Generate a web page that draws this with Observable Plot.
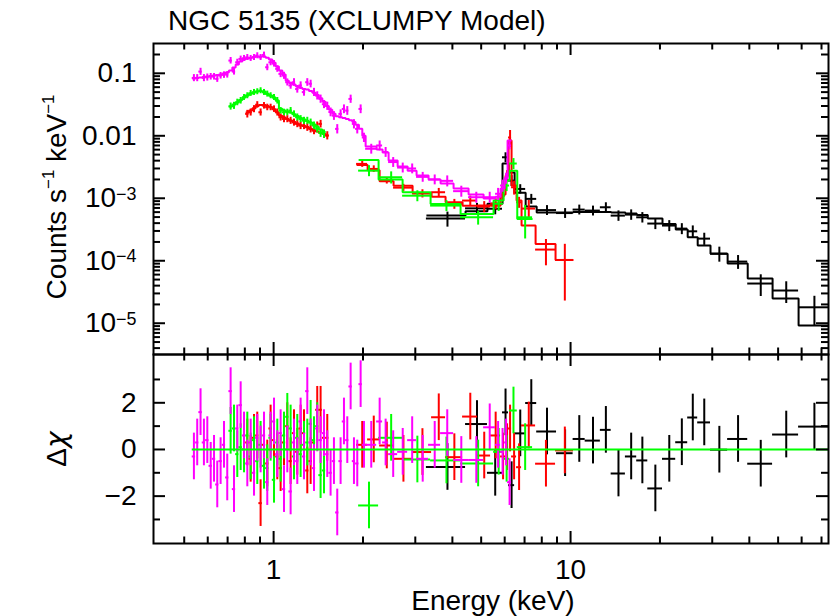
<!DOCTYPE html>
<html><head><meta charset="utf-8">
<script src="https://cdn.jsdelivr.net/npm/d3@7"></script>
<script src="https://cdn.jsdelivr.net/npm/@observablehq/plot@0.6"></script>
<style>
body{margin:0;background:#fff;}
#wrap{position:relative;width:830px;height:616px;overflow:hidden;font-family:"Liberation Sans",Arial,sans-serif;color:#000;background:#fff;}
.lbl{position:absolute;white-space:nowrap;font-size:28px;line-height:1;}
.rot{transform:translate(-50%,-50%) rotate(-90deg);}
.lbl .sp{font-size:0.6em;position:relative;top:-0.72em;}
.chi{font-family:"DejaVu Sans",sans-serif;font-style:oblique;}
</style></head><body>
<div id="wrap">
  <div class="lbl" style="left:168px;top:7px">NGC 5135 (XCLUMPY Model)</div>
  <div class="lbl rot" style="left:57px;top:197px">Counts s<span class="sp">−1</span> keV<span class="sp">−1</span></div>
  <div class="lbl rot" style="left:57px;top:449px">Δ<span class="chi">χ</span></div>
  <div class="lbl" style="left:493px;top:587px;transform:translateX(-50%)">Energy (keV)</div>
</div>
<script>
// ---------------- data (energies in keV, counts s^-1 keV^-1) ----------------
// black
const blackEdges = [3.27, 4.43, 5.25, 5.90, 6.18, 6.48, 7.06, 7.69, 8.97, 10.2, 11.2, 12.6, 13.7, 15.3, 16.7, 18.2, 20.4, 22.6, 24.8, 26.8, 29.6, 33.8, 39.5, 47.9, 58.6, 73.9];
const blackFlux = [4.73e-4, 6.9e-4, 6.8e-4, 4.53e-3, 1.92e-3, 1.41e-3, 9.78e-4, 6.47e-4, 5.80e-4, 6.59e-4, 6.35e-4, 7.18e-4, 5.28e-4, 5.48e-4, 4.96e-4, 3.94e-4, 3.66e-4, 3.27e-4, 2.96e-4, 2.26e-4, 1.30e-4, 9.7e-5, 4.32e-5, 3.34e-5, 1.80e-5];
const blackRelErr = [0.27, 0.2, 0.2, 0.18, 0.2, 0.17, 0.18, 0.18, 0.18, 0.18, 0.18, 0.18, 0.19, 0.19, 0.19, 0.2, 0.2, 0.2, 0.22, 0.22, 0.27, 0.25, 0.38, 0.38, 0.5];
const blackModel = [5.28e-4, 6.2e-4, 8.2e-4, 3.59e-3, 2.58e-3, 1.23e-3, 7.37e-4, 5.90e-4, 5.90e-4, 6.01e-4, 6.01e-4, 6.01e-4, 5.90e-4, 5.69e-4, 5.38e-4, 4.73e-4, 3.87e-4, 3.16e-4, 2.38e-4, 1.75e-4, 1.30e-4, 9.02e-5, 5.19e-5, 2.48e-5, 9.19e-6];
const blackResid = [-0.75, 1.09, -1.0, 1.59, -1.53, 0.69, 1.99, 0.77, -0.16, 0.45, 0.38, 0.84, -1.03, -0.30, -0.47, -1.67, -0.40, 0.31, 1.37, 1.16, -0.01, 0.45, -0.61, 0.64, 0.98];

// red (two energy ranges)
const redLoEdges = [0.805, 0.826, 0.848, 0.870, 0.892, 0.916, 0.940, 0.964, 0.990, 1.016, 1.042, 1.070, 1.098, 1.126, 1.156, 1.186, 1.217, 1.249, 1.282, 1.315, 1.350, 1.385, 1.420, 1.459, 1.497, 1.535];
const redLoFlux = [0.0224, 0.0238, 0.0269, 0.0314, 0.0238, 0.0304, 0.0286, 0.0286, 0.0269, 0.0238, 0.0198, 0.0186, 0.0186, 0.0175, 0.0164, 0.0155, 0.0146, 0.0146, 0.0137, 0.0129, 0.0121, 0.0146, 0.0155, 0.0107, 0.0101];
const redLoRelErr = [0.14, 0.13, 0.13, 0.12, 0.13, 0.12, 0.12, 0.12, 0.12, 0.13, 0.13, 0.13, 0.13, 0.13, 0.13, 0.13, 0.14, 0.14, 0.14, 0.14, 0.14, 0.14, 0.14, 0.15, 0.15];
const redLoModel = [0.0235, 0.0253, 0.0277, 0.0299, 0.0310, 0.0310, 0.0299, 0.0288, 0.0267, 0.0239, 0.0210, 0.0196, 0.0185, 0.0175, 0.0166, 0.0157, 0.0148, 0.0143, 0.0138, 0.0130, 0.0123, 0.0117, 0.0112, 0.0107, 0.0101];
const redLoResid = [0.3, -0.4, 0.5, 0.6, -2.3, 0.2, -0.6, 0.9, 0.4, -0.3, -0.8, 0.3, 1.0, -0.5, 0.7, -0.1, 0.9, 0.7, -0.9, -0.5, 0.3, 1.7, 1.7, 0.5, 0.5];
const redHiEdges = [1.903, 2.073, 2.275, 2.535, 2.938, 3.404, 3.794, 4.329, 4.862, 5.378, 5.811, 6.041, 6.183, 6.329, 6.579, 6.839, 7.625, 8.901, 10.23];
const redHiFlux = [3.55e-3, 2.95e-3, 1.92e-3, 1.48e-3, 1.19e-3, 1.25e-3, 8.13e-4, 9.19e-4, 7.37e-4, 8.22e-4, 1.10e-3, 2.31e-3, 9.36e-3, 1.5e-3, 8.63e-4, 6.84e-4, 1.51e-4, 1.03e-4];
const redHiRelErr = [0.12, 0.12, 0.12, 0.13, 0.15, 0.15, 0.18, 0.18, 0.2, 0.2, 0.2, 0.2, 0.3, 0.25, 0.2, 0.35, 0.45, 0.78];
const redHiModel = [3.4e-3, 2.8e-3, 1.88e-3, 1.58e-3, 1.21e-3, 1.06e-3, 8.6e-4, 7.6e-4, 7.64e-4, 7.6e-4, 1.15e-3, 2.3e-3, 8.4e-3, 1.6e-3, 9.2e-4, 3.66e-4, 1.86e-4, 1.03e-4];
const redHiResid = [0.2, 0.43, 0.17, -0.4, -0.11, 1.38, -0.33, 1.41, -0.26, 0.6, -0.3, 0.1, 0.9, -0.3, -0.76, 1.03, -0.61, -0.04];

// green (two energy ranges)
const greenLoEdges = [0.707, 0.726, 0.745, 0.764, 0.785, 0.805, 0.826, 0.848, 0.870, 0.892, 0.916, 0.940, 0.964, 0.990, 1.016, 1.042, 1.070, 1.098, 1.126, 1.156, 1.186, 1.217, 1.249, 1.282, 1.315, 1.350, 1.385, 1.420, 1.459, 1.497];
const greenLoFlux = [0.0296, 0.0304, 0.0344, 0.0366, 0.0413, 0.0440, 0.0479, 0.0497, 0.0510, 0.0529, 0.0497, 0.0468, 0.0440, 0.0413, 0.0366, 0.0253, 0.0238, 0.0238, 0.0253, 0.0224, 0.0198, 0.0186, 0.0175, 0.0175, 0.0164, 0.0146, 0.0129, 0.0111, 0.0107];
const greenLoRelErr = [0.13, 0.13, 0.12, 0.12, 0.11, 0.11, 0.11, 0.11, 0.11, 0.11, 0.11, 0.11, 0.11, 0.11, 0.12, 0.12, 0.12, 0.12, 0.12, 0.12, 0.13, 0.13, 0.13, 0.13, 0.13, 0.14, 0.14, 0.15, 0.15];
const greenLoModel = [0.0293, 0.0316, 0.0340, 0.0373, 0.0409, 0.0440, 0.0473, 0.0491, 0.0510, 0.0519, 0.0510, 0.0473, 0.0440, 0.0409, 0.0366, 0.0272, 0.0253, 0.0244, 0.0235, 0.0222, 0.0207, 0.0192, 0.0182, 0.0172, 0.0163, 0.0151, 0.0138, 0.0126, 0.0115];
const greenLoResid = [0.8, 0.9, -0.2, 0.1, 0.0, 0.6, -0.3, 0.4, -0.5, 0.2, -0.7, -0.8, 0.5, -1.3, 0.3, -0.4, 0.6, 1.4, 0.9, -0.3, 0.5, -0.2, 0.2, 0.3, 1.1, 0.4, 1.0, -1.1, -0.9];
const greenHiEdges = [1.933, 2.257, 2.719, 3.378, 4.262, 5.505, 5.950, 6.232, 6.615, 7.449];
const greenHiFlux = [2.77e-3, 2.17e-3, 1.10e-3, 7.64e-4, 4.96e-4, 8.2e-4, 1.6e-3, 3.6e-3, 4.96e-4];
const greenHiRelErr = [0.2, 0.22, 0.2, 0.2, 0.25, 0.25, 0.2, 0.2, 0.55];
const greenHiModel = [4.11e-3, 1.99e-3, 1.25e-3, 8.13e-4, 5.62e-4, 9.2e-4, 1.92e-3, 2.77e-3, 4.68e-4];
const greenHiResid = [-2.4, 0.5, -0.43, -0.47, -0.6, -0.1, -0.4, 1.67, 0.1];

// magenta
const magentaEdges = [0.532, 0.546, 0.560, 0.575, 0.590, 0.606, 0.622, 0.638, 0.654, 0.672, 0.689, 0.707, 0.726, 0.745, 0.764, 0.785, 0.805, 0.826, 0.848, 0.870, 0.892, 0.916, 0.940, 0.964, 0.990, 1.016, 1.042, 1.070, 1.098, 1.126, 1.156, 1.186, 1.217, 1.249, 1.282, 1.315, 1.350, 1.385, 1.420, 1.459, 1.497, 1.535, 1.576, 1.617, 1.659, 1.703, 1.748, 1.793, 1.841, 1.888, 1.938, 1.989, 2.041, 2.223, 2.328, 2.439, 2.616, 2.827, 3.030, 3.325, 3.650, 4.037, 4.535, 5.095, 5.591, 5.811, 5.995, 6.136, 6.329];
const magentaFlux = [0.0844, 0.0844, 0.1065, 0.0844, 0.0863, 0.0886, 0.0886, 0.0814, 0.0919, 0.0943, 0.0953, 0.160, 0.1065, 0.150, 0.170, 0.174, 0.180, 0.174, 0.180, 0.192, 0.180, 0.197, 0.125, 0.150, 0.143, 0.118, 0.098, 0.092, 0.072, 0.064, 0.072, 0.056, 0.064, 0.050, 0.072, 0.068, 0.050, 0.044, 0.039, 0.032, 0.030, 0.024, 0.021, 0.0129, 0.0224, 0.0269, 0.0253, 0.0389, 0.0155, 0.0129, 0.0269, 0.0094, 0.0062, 0.0070, 0.0055, 0.0038, 0.0031, 0.0030, 0.0022, 0.0020, 0.0019, 0.0013, 0.00104, 0.00104, 0.00118, 0.0016, 0.0021, 0.0070];
const magentaRelErr = [0.13, 0.13, 0.13, 0.13, 0.13, 0.12, 0.12, 0.12, 0.12, 0.12, 0.12, 0.12, 0.12, 0.12, 0.11, 0.11, 0.11, 0.11, 0.11, 0.11, 0.11, 0.11, 0.12, 0.12, 0.12, 0.12, 0.13, 0.13, 0.13, 0.13, 0.14, 0.14, 0.14, 0.14, 0.14, 0.14, 0.15, 0.15, 0.15, 0.15, 0.15, 0.16, 0.16, 0.17, 0.16, 0.16, 0.16, 0.15, 0.17, 0.17, 0.16, 0.17, 0.18, 0.18, 0.18, 0.18, 0.18, 0.18, 0.18, 0.18, 0.2, 0.2, 0.2, 0.2, 0.22, 0.22, 0.2, 0.15];
const magentaModel = [0.0823, 0.0838, 0.0854, 0.0870, 0.0886, 0.0902, 0.0919, 0.0936, 0.0953, 0.0989, 0.1026, 0.1105, 0.1234, 0.138, 0.154, 0.166, 0.172, 0.178, 0.182, 0.185, 0.185, 0.185, 0.178, 0.166, 0.148, 0.128, 0.1105, 0.0953, 0.076, 0.070, 0.066, 0.062, 0.059, 0.056, 0.055, 0.052, 0.049, 0.045, 0.040, 0.035, 0.030, 0.026, 0.0225, 0.0205, 0.0198, 0.0192, 0.0186, 0.0178, 0.0166, 0.0150, 0.0130, 0.0100, 0.00672, 0.00601, 0.00538, 0.00401, 0.00322, 0.00277, 0.00231, 0.00199, 0.00172, 0.00143, 0.00115, 0.00099, 0.00106, 0.00143, 0.00207, 0.00838];
const magentaResid = [-0.3, 0.3, 1.6, 0.3, 0.4, -0.7, -0.4, -1.5, -0.5, 0.2, -1.2, 2.5, -1.7, 0.9, 1.9, 0.6, -0.6, 0.3, -1.0, 0.5, 0.0, 0.6, -1.4, 0.6, 1.2, -0.2, 0.7, -1.7, 0.0, -1.8, 0.3, -0.5, 1.2, -0.3, 2.5, 0.3, -0.8, 0.9, 0.4, 0.7, -0.2, -1.0, -0.5, -2.7, -0.5, 1.2, 0.4, 2.7, -0.5, -0.6, 2.8, 0.2, 0.2, 1.2, 0.3, -0.2, -0.1, 0.4, -0.4, 0.2, 0.7, -0.45, -0.45, 0.95, 0.2, -0.1, 0.3, -1.4];

// axes: ranges and tick values / labels
const xDomain = [0.394, 73.9];
const xMajor = [1, 10];
const xMinor = [0.5, 0.6, 0.7, 0.8, 0.9, 2, 3, 4, 5, 6, 7, 8, 9, 20, 30, 40, 50, 60, 70];
const xLabels = ["1", "10"];
const yTopDomain = [3.16e-6, 0.3];
const yTopMajor = [0.1, 0.01, 1e-3, 1e-4, 1e-5];
const yTopLabels = ["0.1", "0.01", "10^−3", "10^−4", "10^−5"];
const yTopMinor = [4e-6, 5e-6, 6e-6, 7e-6, 8e-6, 9e-6, 2e-5, 3e-5, 4e-5, 5e-5, 6e-5, 7e-5, 8e-5, 9e-5, 2e-4, 3e-4, 4e-4, 5e-4, 6e-4, 7e-4, 8e-4, 9e-4, 2e-3, 3e-3, 4e-3, 5e-3, 6e-3, 7e-3, 8e-3, 9e-3, 0.02, 0.03, 0.04, 0.05, 0.06, 0.07, 0.08, 0.09, 0.2];
const yResDomain = [-4.03, 4.07];
const yResMajor = [-2, 0, 2];
const yResLabels = ["−2", "0", "2"];
const yResMinor = [-3, -1, 1, 3];

// ---------------- build ----------------
const series = [
  {color: "#000000", segs: [[blackEdges, blackFlux, blackRelErr, blackModel, blackResid]]},
  {color: "#ff0000", segs: [[redLoEdges, redLoFlux, redLoRelErr, redLoModel, redLoResid], [redHiEdges, redHiFlux, redHiRelErr, redHiModel, redHiResid]]},
  {color: "#00ff00", segs: [[greenLoEdges, greenLoFlux, greenLoRelErr, greenLoModel, greenLoResid], [greenHiEdges, greenHiFlux, greenHiRelErr, greenHiModel, greenHiResid]]},
  {color: "#ff00ff", segs: [[magentaEdges, magentaFlux, magentaRelErr, magentaModel, magentaResid]]}
];
series.forEach(s => {
  s.bins = [];
  s.steps = [];
  s.segs.forEach(([edges, flux, rel, model, resid], k) => {
    flux.forEach((f, i) => {
      const b = {lo: edges[i], hi: edges[i + 1], e: (edges[i] + edges[i + 1]) / 2, f,
        f1: f * (1 - rel[i]), f2: f * (1 + rel[i]), m: model[i], r: resid[i]};
      s.bins.push(b);
      s.steps.push({x: b.lo, y: b.m, seg: k}, {x: b.hi, y: b.m, seg: k});
    });
  });
});
const allEdges = series.flatMap(s => s.segs.flatMap(g => g[0]));
const zeroLine = [{x1: d3.min(allEdges), x2: d3.max(allEdges), y: 0}];

const ML = 153, MR = 2, W = 830;
const FW = W - ML - MR;
const font = "Liberation Sans, Arial, sans-serif";
const sw = 2;

function tickMarks(xMaj, xMin, yMaj, yMin, fh, yMajLen, yMinLen) {
  const M = 12, m = 6.5;
  return [
    Plot.ruleX(xMaj, {x: d => d, insetBottom: fh - M, strokeWidth: sw}),
    Plot.ruleX(xMaj, {x: d => d, insetTop: fh - M, strokeWidth: sw}),
    Plot.ruleX(xMin, {x: d => d, insetBottom: fh - m, strokeWidth: sw}),
    Plot.ruleX(xMin, {x: d => d, insetTop: fh - m, strokeWidth: sw}),
    Plot.ruleY(yMaj, {y: d => d, insetRight: FW - yMajLen, strokeWidth: sw}),
    Plot.ruleY(yMaj, {y: d => d, insetLeft: FW - yMajLen, strokeWidth: sw}),
    Plot.ruleY(yMin, {y: d => d, insetRight: FW - yMinLen, strokeWidth: sw}),
    Plot.ruleY(yMin, {y: d => d, insetLeft: FW - yMinLen, strokeWidth: sw})
  ];
}

// ---- top panel ----
const topMT = 43, topH = 356, topMB = 2;
const topFH = topH - topMT - topMB;
const topMarks = [];
series.forEach(s => {
  topMarks.push(
    Plot.ruleY(s.bins, {y: "f", x1: "lo", x2: "hi", stroke: s.color, strokeWidth: sw}),
    Plot.ruleX(s.bins, {x: "e", y1: "f1", y2: "f2", stroke: s.color, strokeWidth: sw}),
    Plot.line(s.steps, {x: "x", y: "y", z: "seg", stroke: s.color, strokeWidth: sw, curve: "linear", strokeLinejoin: "miter", strokeLinecap: "butt"})
  );
});
topMarks.push(...tickMarks(xMajor, xMinor, yTopMajor, yTopMinor, topFH, 12, 7));
topMarks.push(Plot.frame({strokeWidth: sw}));
topMarks.push(Plot.axisY(yTopMajor, {tickSize: 0, tickPadding: 17, fontSize: 28,
  tickFormat: d => yTopLabels[yTopMajor.indexOf(d)]}));

const topPlot = Plot.plot({
  width: W, height: topH, marginTop: topMT, marginBottom: topMB, marginLeft: ML, marginRight: MR,
  x: {type: "log", domain: xDomain, axis: null},
  y: {type: "log", domain: yTopDomain},
  style: {background: "transparent", fontFamily: font, fontSize: "28px", color: "black", overflow: "visible"},
  marks: topMarks
});

// ---- residual panel ----
const resTop = 344, resMT = 10, resH = 272, resMB = 73;
const resFH = resH - resMT - resMB;
const resMarks = [];
series.forEach(s => {
  resMarks.push(
    Plot.ruleY(s.bins, {y: "r", x1: "lo", x2: "hi", stroke: s.color, strokeWidth: sw}),
    Plot.ruleX(s.bins, {x: "e", y1: d => d.r - 1, y2: d => d.r + 1, stroke: s.color, strokeWidth: sw})
  );
});
resMarks.push(Plot.ruleY(zeroLine, {y: "y", x1: "x1", x2: "x2", stroke: "#00ff00", strokeWidth: sw}));
resMarks.push(...tickMarks(xMajor, xMinor, yResMajor, yResMinor, resFH, 12, 7));
resMarks.push(Plot.frame({strokeWidth: sw}));
resMarks.push(Plot.axisY(yResMajor, {tickSize: 0, tickPadding: 17, fontSize: 28,
  tickFormat: d => yResLabels[yResMajor.indexOf(d)]}));
resMarks.push(Plot.axisX(xMajor, {tickSize: 0, tickPadding: 16, fontSize: 28,
  tickFormat: d => xLabels[xMajor.indexOf(d)]}));

const resPlot = Plot.plot({
  width: W, height: resH, marginTop: resMT, marginBottom: resMB, marginLeft: ML, marginRight: MR,
  x: {type: "log", domain: xDomain},
  y: {domain: yResDomain},
  style: {background: "transparent", fontFamily: font, fontSize: "28px", color: "black", overflow: "visible"},
  marks: resMarks
});

// superscript exponents in tick labels
const NS = "http://www.w3.org/2000/svg";
topPlot.querySelectorAll("text").forEach(t => {
  const m = t.textContent.match(/^10\^(.+)$/);
  if (m) {
    t.textContent = "10";
    const ts = document.createElementNS(NS, "tspan");
    ts.setAttribute("dy", "-0.42em");
    ts.setAttribute("font-size", "0.64em");
    ts.textContent = m[1];
    t.appendChild(ts);
  }
});

const wrap = document.getElementById("wrap");
[topPlot, resPlot].forEach((p, i) => {
  p.style.position = "absolute";
  p.style.left = "0px";
  p.style.top = (i === 0 ? 0 : resTop) + "px";
  wrap.appendChild(p);
});
</script>
</body></html>
